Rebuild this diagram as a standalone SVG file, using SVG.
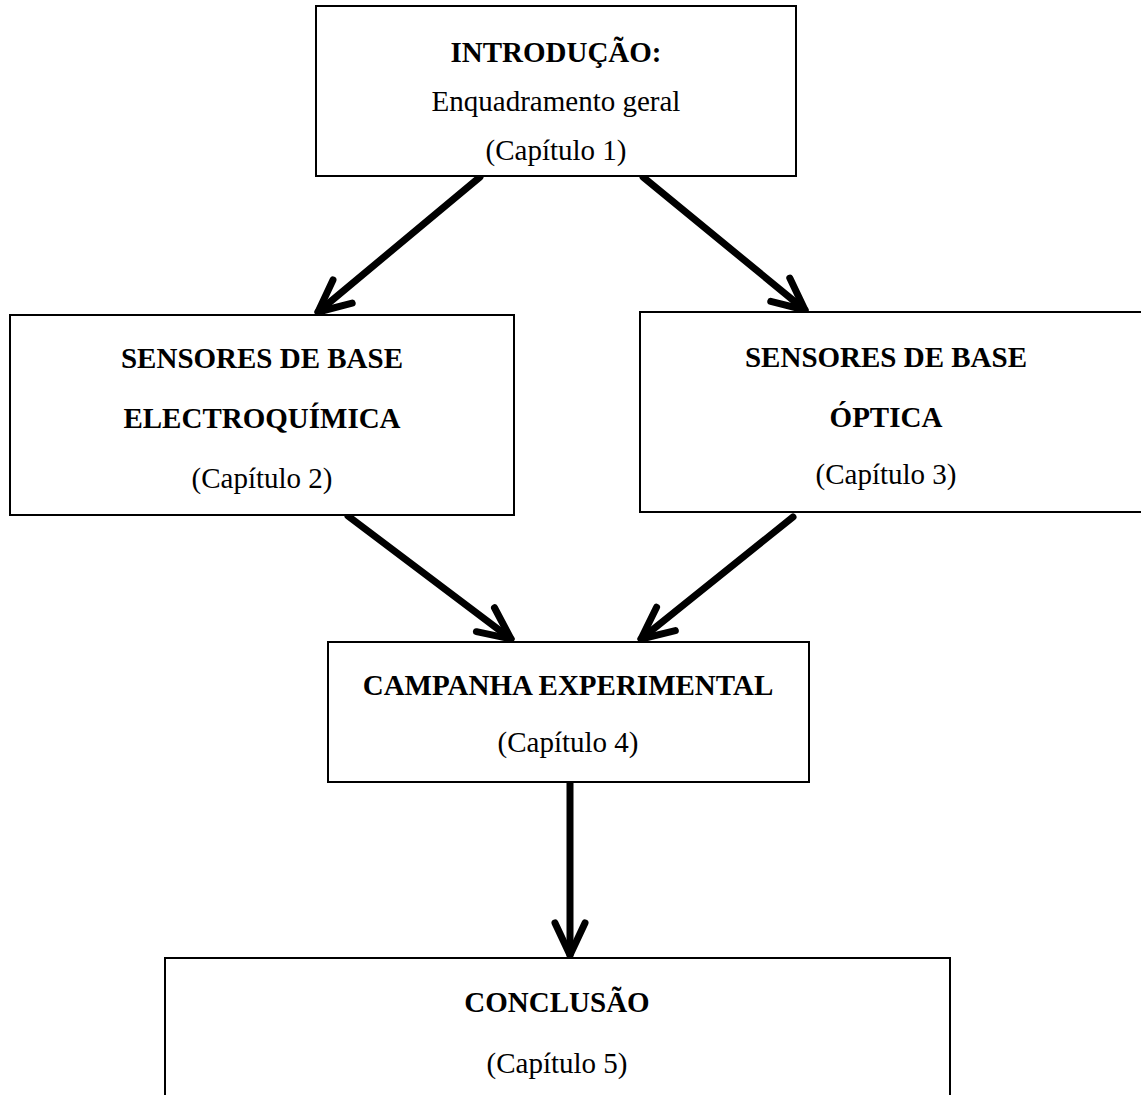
<svg xmlns="http://www.w3.org/2000/svg" width="1141" height="1095" viewBox="0 0 1141 1095">
  <style>
    .box { fill: #ffffff; stroke: #000000; stroke-width: 2; }
    .t { font-family: "Liberation Serif", "Times New Roman", serif; font-size: 29px; fill: #000000; text-anchor: middle; }
    .b { font-weight: bold; }
    .conn { fill: none; stroke: #000000; stroke-width: 7; stroke-linecap: round; stroke-linejoin: round; }
  </style>
  <defs>
    <marker id="chev" markerUnits="userSpaceOnUse" viewBox="-40 -20 44 40" refX="0" refY="0" markerWidth="44" markerHeight="40" orient="auto" overflow="visible">
      <path d="M -32,-15 L 0,0 L -32,15" fill="none" stroke="#000000" stroke-width="7" stroke-linecap="round" stroke-linejoin="round"/>
    </marker>
  </defs>
  <rect width="1141" height="1095" fill="#ffffff"/>

  <g id="connectors">
    <path class="conn" d="M 480,177 L 318,312" marker-end="url(#chev)"/>
    <path class="conn" d="M 643,177 L 805,310" marker-end="url(#chev)"/>
    <path class="conn" d="M 348,516 L 511,639" marker-end="url(#chev)"/>
    <path class="conn" d="M 793,517 L 641,639" marker-end="url(#chev)"/>
    <path class="conn" d="M 570,783 L 570,955" marker-end="url(#chev)"/>
  </g>

  <g id="n1">
    <rect class="box" x="316" y="6" width="480" height="170"/>
    <text class="t b" x="556" y="62">INTRODUÇÃO:</text>
    <text class="t" x="556" y="111">Enquadramento geral</text>
    <text class="t" x="556" y="160">(Capítulo 1)</text>
  </g>

  <g id="n2">
    <rect class="box" x="10" y="315" width="504" height="200"/>
    <text class="t b" x="262" y="368">SENSORES DE BASE</text>
    <text class="t b" x="262" y="428">ELECTROQUÍMICA</text>
    <text class="t" x="262" y="488">(Capítulo 2)</text>
  </g>

  <g id="n3">
    <rect class="box" x="640" y="312" width="506" height="200"/>
    <text class="t b" x="886" y="367">SENSORES DE BASE</text>
    <text class="t b" x="886" y="427">ÓPTICA</text>
    <text class="t" x="886" y="484">(Capítulo 3)</text>
  </g>

  <g id="n4">
    <rect class="box" x="328" y="642" width="481" height="140"/>
    <text class="t b" x="568" y="695">CAMPANHA EXPERIMENTAL</text>
    <text class="t" x="568" y="752">(Capítulo 4)</text>
  </g>

  <g id="n5">
    <rect class="box" x="165" y="958" width="785" height="160"/>
    <text class="t b" x="557" y="1012">CONCLUSÃO</text>
    <text class="t" x="557" y="1073">(Capítulo 5)</text>
  </g>
</svg>
